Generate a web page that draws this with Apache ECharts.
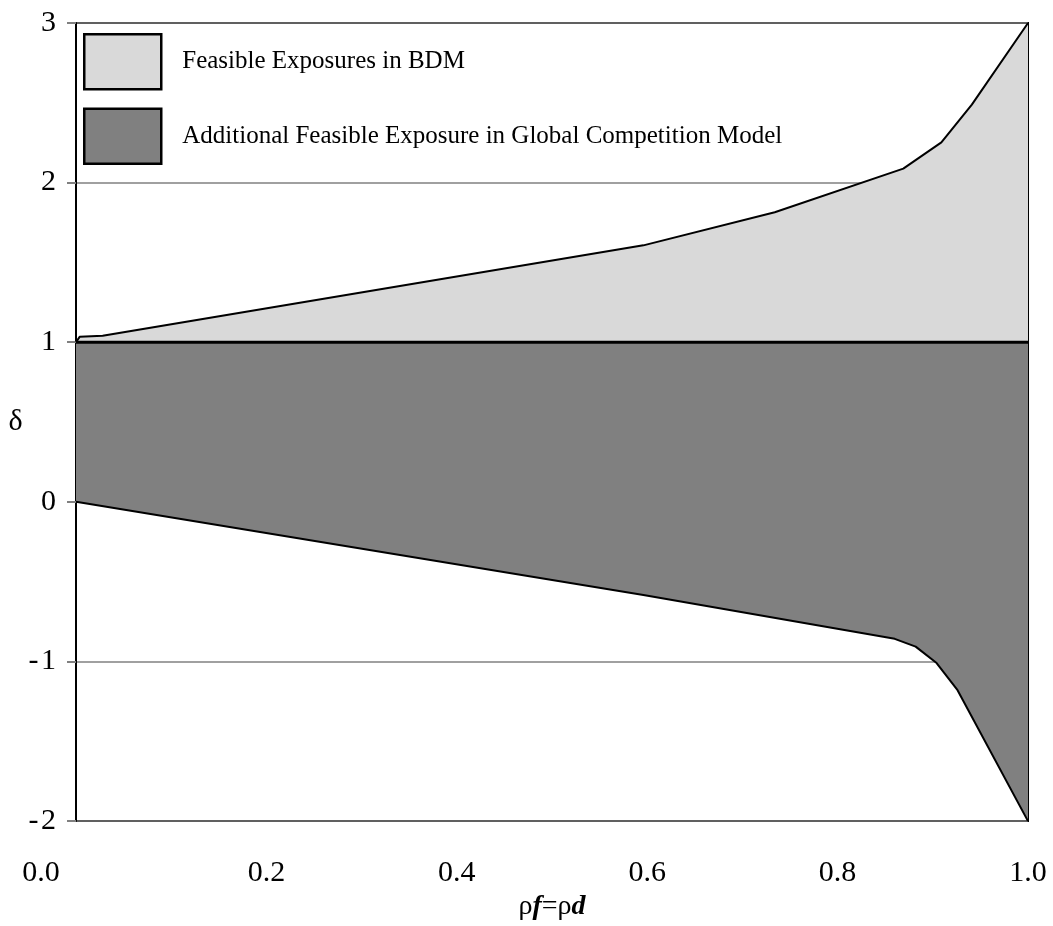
<!DOCTYPE html>
<html><head><meta charset="utf-8">
<script src="https://cdn.jsdelivr.net/npm/echarts@6/dist/echarts.min.js"></script>
<style>html,body{margin:0;padding:0;background:#fff}#c{width:1053px;height:926px}</style>
</head><body><div id="c"></div>
<script>
const xTicks = [0, 0.2, 0.4, 0.6, 0.8, 1.0];
const yTicks = [-2, -1, 0, 1, 2, 3];
const upperX = [0, 0.004, 0.028, 0.596, 0.734, 0.869, 0.909, 0.941, 1.0];
const upperY = [1.0, 1.035, 1.04, 1.607, 1.814, 2.088, 2.252, 2.489, 3.0];
const lowerX = [0, 0.596, 0.860, 0.882, 0.904, 0.926, 1.0];
const lowerY = [0, -0.584, -0.858, -0.907, -1.01, -1.18, -2.0];
const baseY = 1;
const seriesNames = ['Feasible Exposures in BDM', 'Additional Feasible Exposure in Global Competition Model'];
const LIGHT = '#d9d9d9', DARK = '#808080';
const FONT = 'Liberation Serif';

const upperPts = upperX.map((x, i) => [x, upperY[i]]);
const lowerPts = lowerX.map((x, i) => [x, lowerY[i]]);
const lightPoly = upperPts.concat([[upperX[upperX.length - 1], baseY], [upperX[0], baseY]]);
const darkPoly = [[lowerX[0], baseY], [lowerX[lowerX.length - 1], baseY]].concat(lowerPts.slice().reverse());

function polySeries(name, poly, color) {
  return {
    type: 'custom', name: name, coordinateSystem: 'cartesian2d', silent: true,
    itemStyle: { color: color, borderColor: '#000', borderWidth: 2 },
    data: poly,
    renderItem: function (params, api) {
      if (params.dataIndex !== 0) return null;
      return { type: 'polygon', shape: { points: poly.map(p => api.coord(p)) }, style: { fill: color } };
    },
    z: 1
  };
}
function lineSeries(pts, w) {
  return { type: 'line', data: pts, showSymbol: false, silent: true, lineStyle: { color: '#000', width: w }, z: 3 };
}

const chart = echarts.init(document.getElementById('c'));
chart.setOption({
  animation: false,
  backgroundColor: '#fff',
  textStyle: { fontFamily: FONT },
  grid: { left: 76, top: 23, right: 25, bottom: 81, show: true, borderColor: '#000', borderWidth: 2, backgroundColor: 'transparent' },
  legend: {
    orient: 'vertical', left: 83, top: 33, padding: 0, itemWidth: 77, itemHeight: 55, itemGap: 17,
    selectedMode: false,
    textStyle: { fontFamily: FONT, fontSize: 25, color: '#000', padding: [0, 0, 0, 16] },
    data: [
      { name: seriesNames[0], icon: 'rect', itemStyle: { color: LIGHT, borderColor: '#000', borderWidth: 2.5 } },
      { name: seriesNames[1], icon: 'rect', itemStyle: { color: DARK, borderColor: '#000', borderWidth: 2.5 } }
    ]
  },
  xAxis: {
    type: 'value', min: xTicks[0], max: xTicks[xTicks.length - 1], interval: 0.2,
    axisLine: { show: true, lineStyle: { color: '#000', width: 2 } },
    axisTick: { show: false },
    splitLine: { show: false },
    axisLabel: {
      color: '#000', fontFamily: FONT, fontSize: 30, margin: 37,
      formatter: v => v === 0 ? '{m|' + v.toFixed(1) + '}' : v.toFixed(1),
      rich: { m: { fontFamily: FONT, fontSize: 30, color: '#000', padding: [0, 70, 0, 0] } }
    },
    name: '{a|ρ}{b|f}{a|=ρ}{c|d}', nameLocation: 'middle', nameGap: 60,
    nameTextStyle: {
      rich: {
        a: { fontFamily: FONT, fontSize: 28, color: '#000' },
        b: { fontFamily: FONT, fontSize: 28, fontStyle: 'italic', fontWeight: 'bold', color: '#000' },
        c: { fontFamily: FONT, fontSize: 28, fontStyle: 'italic', fontWeight: 'bold', color: '#000' }
      }
    }
  },
  yAxis: {
    type: 'value', min: yTicks[0], max: yTicks[yTicks.length - 1], interval: 1,
    axisLine: { show: true, lineStyle: { color: '#000', width: 2 } },
    axisTick: { show: true, length: 9, lineStyle: { color: '#808080', width: 2 } },
    splitLine: { show: true, lineStyle: { color: '#808080', width: 1.5 } },
    axisLabel: { color: '#000', fontFamily: FONT, fontSize: 30, margin: 20,
      formatter: v => v < 0 ? '-\u200A' + Math.abs(v) : String(v) },
    name: 'δ', nameLocation: 'middle', nameGap: 52, nameRotate: 0,
    nameTextStyle: { fontFamily: FONT, fontSize: 30, color: '#000', padding: [6, 0, 0, 0] }
  },
  series: [
    polySeries(seriesNames[0], lightPoly, LIGHT),
    polySeries(seriesNames[1], darkPoly, DARK),
    lineSeries(upperPts, 2),
    lineSeries(lowerPts, 2),
    lineSeries([[0, baseY], [1, baseY]], 3)
  ]
});
</script></body></html>
